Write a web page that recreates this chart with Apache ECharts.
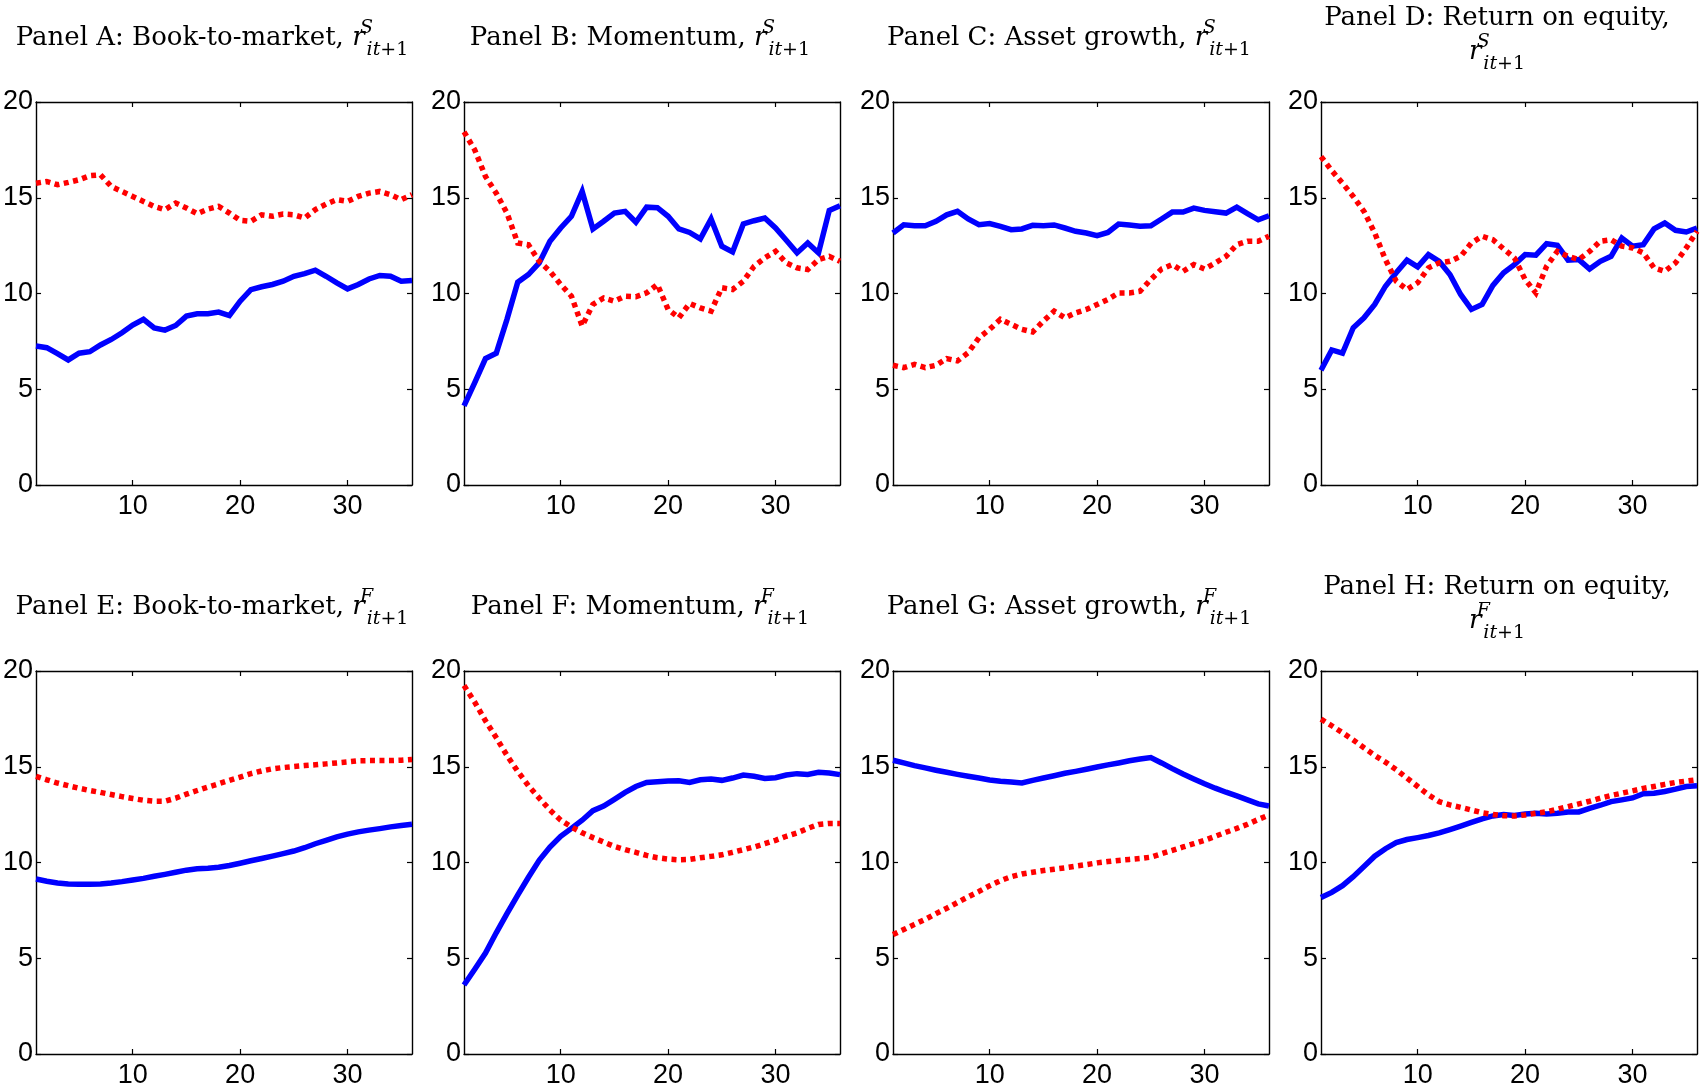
<!DOCTYPE html>
<html><head><meta charset="utf-8">
<script src="https://cdn.jsdelivr.net/npm/echarts@6/dist/echarts.min.js"></script>
<style>html,body{margin:0;padding:0;background:#fff}#chart{width:1701px;height:1090px}</style>
</head><body><div id="chart"></div>
<script>
const months = [1,2,3,4,5,6,7,8,9,10,11,12,13,14,15,16,17,18,19,20,21,22,23,24,25,26,27,28,29,30,31,32,33,34,35,36];
const xTickValues = [10,20,30];

const aBlue = [7.26,7.17,6.86,6.53,6.88,6.96,7.31,7.6,7.95,8.35,8.65,8.2,8.09,8.33,8.82,8.94,8.94,9.03,8.85,9.6,10.2,10.35,10.47,10.64,10.9,11.04,11.22,10.9,10.56,10.24,10.47,10.76,10.94,10.9,10.64,10.68];
const aRed = [15.76,15.85,15.68,15.8,15.94,16.15,16.2,15.59,15.33,15.07,14.81,14.55,14.38,14.72,14.46,14.17,14.41,14.55,14.2,13.82,13.77,14.11,14.03,14.15,14.11,13.94,14.38,14.67,14.9,14.81,15.07,15.24,15.33,15.16,14.9,15.16];
const bBlue = [4.13,5.35,6.6,6.88,8.65,10.59,10.99,11.6,12.73,13.42,14.03,15.33,13.37,13.77,14.2,14.29,13.72,14.51,14.48,14.03,13.37,13.19,12.85,13.89,12.47,12.17,13.63,13.8,13.94,13.42,12.78,12.12,12.64,12.12,14.34,14.58];
const bRed = [18.44,17.5,16.11,15.24,14.2,12.64,12.55,11.68,11.16,10.47,9.86,8.3,9.43,9.77,9.6,9.86,9.83,10.03,10.47,9.17,8.73,9.48,9.25,9.08,10.3,10.21,10.64,11.42,11.86,12.2,11.6,11.34,11.25,11.77,11.94,11.68];
const cBlue = [13.16,13.59,13.54,13.54,13.77,14.11,14.29,13.89,13.59,13.65,13.51,13.33,13.37,13.56,13.54,13.58,13.42,13.25,13.16,13.02,13.19,13.63,13.58,13.51,13.54,13.89,14.25,14.25,14.46,14.34,14.27,14.2,14.51,14.17,13.85,14.06];
const cRed = [6.25,6.13,6.3,6.13,6.25,6.6,6.48,6.91,7.69,8.13,8.65,8.39,8.13,7.99,8.56,9.08,8.73,8.99,9.17,9.43,9.69,10.03,10.03,10.12,10.73,11.28,11.51,11.16,11.51,11.28,11.6,11.94,12.55,12.73,12.73,12.99];
const dBlue = [5.99,7.05,6.88,8.21,8.73,9.43,10.38,11.08,11.74,11.39,12.03,11.68,10.99,9.95,9.17,9.43,10.42,11.08,11.51,12.03,12.0,12.6,12.52,11.74,11.77,11.28,11.68,11.94,12.9,12.47,12.55,13.37,13.68,13.3,13.21,13.42];
const dRed = [17.15,16.42,15.76,15.07,14.29,13.16,11.77,10.64,10.21,10.56,11.34,11.6,11.68,11.94,12.64,12.99,12.81,12.33,11.86,10.73,10.03,11.42,12.2,11.94,11.77,12.2,12.73,12.81,12.47,12.38,12.12,11.34,11.16,11.6,12.38,13.25];
const eBlue = [9.14,9.02,8.93,8.88,8.86,8.86,8.88,8.93,9.0,9.09,9.17,9.28,9.38,9.49,9.6,9.67,9.7,9.75,9.84,9.96,10.09,10.21,10.33,10.46,10.6,10.77,10.98,11.16,11.34,11.48,11.6,11.69,11.77,11.86,11.93,12.0];
const eRed = [14.5,14.32,14.15,14.01,13.88,13.76,13.66,13.55,13.44,13.34,13.25,13.2,13.2,13.36,13.57,13.76,13.94,14.11,14.29,14.46,14.64,14.78,14.89,14.96,15.01,15.06,15.1,15.15,15.2,15.25,15.31,15.32,15.32,15.32,15.34,15.38];
const fBlue = [3.6,4.43,5.27,6.33,7.33,8.3,9.23,10.11,10.81,11.37,11.78,12.21,12.71,12.95,13.3,13.66,13.97,14.18,14.22,14.25,14.27,14.18,14.32,14.36,14.29,14.41,14.57,14.5,14.39,14.43,14.57,14.64,14.6,14.71,14.67,14.59];
const fRed = [19.24,18.37,17.4,16.52,15.59,14.76,14.01,13.36,12.74,12.21,11.86,11.55,11.3,11.07,10.84,10.67,10.53,10.37,10.25,10.18,10.14,10.16,10.25,10.32,10.4,10.53,10.67,10.81,10.98,11.16,11.37,11.55,11.78,11.99,12.04,12.04];
const gBlue = [15.34,15.2,15.06,14.94,14.82,14.71,14.6,14.5,14.41,14.31,14.24,14.2,14.15,14.29,14.41,14.53,14.66,14.76,14.87,14.99,15.1,15.2,15.31,15.4,15.48,15.2,14.9,14.62,14.36,14.11,13.88,13.67,13.48,13.27,13.06,12.95];
const gRed = [6.24,6.5,6.77,7.03,7.33,7.61,7.91,8.21,8.49,8.79,9.05,9.26,9.4,9.49,9.58,9.65,9.72,9.81,9.89,9.98,10.05,10.11,10.16,10.21,10.28,10.46,10.63,10.81,10.98,11.16,11.37,11.58,11.78,12.0,12.25,12.48];
const hBlue = [8.17,8.44,8.79,9.26,9.79,10.33,10.72,11.04,11.2,11.3,11.41,11.55,11.72,11.9,12.09,12.28,12.43,12.5,12.46,12.53,12.57,12.53,12.57,12.64,12.64,12.83,12.99,13.18,13.27,13.37,13.59,13.62,13.71,13.83,13.97,14.01];
const hRed = [17.49,17.14,16.78,16.4,15.99,15.59,15.24,14.85,14.41,13.97,13.53,13.18,13.01,12.88,12.74,12.6,12.51,12.44,12.43,12.48,12.57,12.65,12.78,12.92,13.06,13.2,13.36,13.5,13.62,13.74,13.87,13.97,14.08,14.18,14.25,14.32];

const panelNames = ['Panel A: Book-to-market,','Panel B: Momentum,','Panel C: Asset growth,','Panel D: Return on equity,',
                    'Panel E: Book-to-market,','Panel F: Momentum,','Panel G: Asset growth,','Panel H: Return on equity,'];
const panelSup = ['S','S','S','S','F','F','F','F'];
const panelTwoLines = [false,false,false,true,false,false,false,true];
const blueSeries = [aBlue,bBlue,cBlue,dBlue,eBlue,fBlue,gBlue,hBlue];
const redSeries = [aRed,bRed,cRed,dRed,eRed,fRed,gRed,hRed];

const colLeft = [36, 464, 893, 1321];
const rowTop = [102, 671];
const W = 376, H = 383;
const serif = '"DejaVu Serif", "Liberation Serif", serif';
const tickFont = '"Liberation Sans Narrow", "Arial Narrow", "Liberation Sans", sans-serif';

const richStyles = {
  base: {fontFamily: serif, fontSize: 26, color: '#000', lineHeight: 44, verticalAlign: 'middle'},
  r: {fontFamily: serif, fontSize: 26, fontStyle: 'italic', color: '#000', lineHeight: 44, verticalAlign: 'middle'},
  sup: {fontFamily: serif, fontSize: 19, fontStyle: 'italic', color: '#000', verticalAlign: 'top', width: 0, padding: [3,0,0,2]},
  sub: {fontFamily: serif, fontSize: 19, fontStyle: 'italic', color: '#000', verticalAlign: 'bottom'},
  subr: {fontFamily: serif, fontSize: 19, color: '#000', verticalAlign: 'bottom'}
};

const grids = [], xAxes = [], yAxes = [], series = [], titles = [];
const axisCol = '#000';
for (let p = 0; p < 8; p++) {
  const col = p % 4, row = Math.floor(p / 4);
  grids.push({left: colLeft[col], top: rowTop[row], width: W, height: H, containLabel: false});
  const tickCommon = {show: true, inside: true, length: 5, lineStyle: {color: axisCol, width: 1.2}};
  xAxes.push({gridIndex: p, type: 'value', position: 'bottom', min: 1, max: 36,
    axisLine: {show: true, onZero: false, lineStyle: {color: axisCol, width: 1.4}},
    axisTick: Object.assign({customValues: xTickValues}, tickCommon),
    axisLabel: {customValues: xTickValues, color: '#000', fontFamily: tickFont, fontSize: 27, margin: 8},
    splitLine: {show: false}});
  xAxes.push({gridIndex: p, type: 'value', position: 'top', min: 1, max: 36,
    axisLine: {show: true, onZero: false, lineStyle: {color: axisCol, width: 1.4}},
    axisTick: Object.assign({customValues: xTickValues}, tickCommon),
    axisLabel: {show: false}, splitLine: {show: false}});
  yAxes.push({gridIndex: p, type: 'value', position: 'left', min: 0, max: 20, interval: 5,
    axisLine: {show: true, onZero: false, lineStyle: {color: axisCol, width: 1.4}},
    axisTick: tickCommon,
    axisLabel: {color: '#000', fontFamily: tickFont, fontSize: 27, margin: 3},
    splitLine: {show: false}});
  yAxes.push({gridIndex: p, type: 'value', position: 'right', min: 0, max: 20, interval: 5,
    axisLine: {show: true, onZero: false, lineStyle: {color: axisCol, width: 1.4}},
    axisTick: tickCommon, axisLabel: {show: false}, splitLine: {show: false}});
  series.push({type: 'line', xAxisIndex: 2*p, yAxisIndex: 2*p, showSymbol: false, silent: true,
    data: months.map((m, i) => [m, blueSeries[p][i]]),
    lineStyle: {color: '#0000ff', width: 5.5, cap: 'butt', join: 'miter'}, z: 2});
  series.push({type: 'line', xAxisIndex: 2*p, yAxisIndex: 2*p, showSymbol: false, silent: true,
    data: months.map((m, i) => [m, redSeries[p][i]]),
    lineStyle: {color: '#ff0000', width: 5.5, type: [5, 4.5], cap: 'butt', join: 'miter'}, z: 3});

  const cx = colLeft[col] + W / 2 - 12;
  const math = '{r|r}{sup|' + panelSup[p] + '}{sub|it}{subr|+1}';
  const rowOff = row * 569;
  if (panelTwoLines[p]) {
    titles.push({text: panelNames[p], left: cx, top: 3 + rowOff, textAlign: 'center', padding: 0,
      textStyle: {fontFamily: serif, fontSize: 26, fontWeight: 'normal', color: '#000', lineHeight: 30}});
    titles.push({text: math, left: cx, top: 30 + rowOff, textAlign: 'center', padding: 0,
      textStyle: {rich: richStyles, fontFamily: serif, fontSize: 26, fontWeight: 'normal', color: '#000'}});
  } else {
    titles.push({text: '{base|' + panelNames[p] + ' }' + math, left: cx, top: 16 + rowOff, textAlign: 'center', padding: 0,
      textStyle: {rich: richStyles, fontFamily: serif, fontSize: 26, fontWeight: 'normal', color: '#000'}});
  }
}

const chart = echarts.init(document.getElementById('chart'), null, {renderer: 'canvas'});
chart.setOption({
  backgroundColor: '#fff',
  animation: false,
  title: titles,
  grid: grids,
  xAxis: xAxes,
  yAxis: yAxes,
  series: series
});
</script>
</body></html>
